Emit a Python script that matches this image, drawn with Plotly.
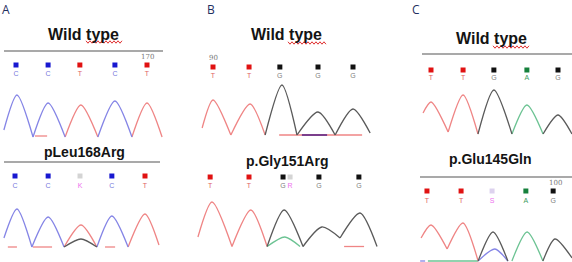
import plotly.graph_objects as go

W, H = 572, 262
K = 0.5  # px per intensity unit

# ------------------------------------------------------------------ data
# base calls (position in base units, call letter)
a_wt_calls = ["C", "C", "T", "C", "T"]
a_wt_pos = [0, 0.98, 1.95, 3.02, 4.0]
a_mut_calls = ["C", "C", "K", "C", "T"]
a_mut_pos = [0, 1.02, 2.0, 2.98, 4.0]
b_wt_calls = ["T", "T", "G", "G", "G"]
b_wt_pos = [0, 1.03, 1.91, 3.0, 4.0]
b_mut_calls = ["T", "T", "G", "R", "G", "G"]
b_mut_pos = [-0.05, 1.0, 1.92, 2.11, 2.89, 3.97]
c_wt_calls = ["T", "T", "G", "A", "G"]
c_wt_pos = [0, 1.01, 1.98, 3.02, 4.0]
c_mut_calls = ["T", "T", "S", "A", "G"]
c_mut_pos = [-0.13, 0.97, 1.97, 3.06, 3.94]

# chromatogram traces (position in base units, signal intensity)
a_wt_blue_x = [-0.37, 0.03, 0.52, 0.98, 1.5, None, 2.5, 3.02, 3.54]
a_wt_blue_y = [14, 84, 0, 68, 0, None, 0, 72, 0]
a_wt_red_x = [0.58, 0.95, None, 1.5, 1.98, 2.5, None, 3.54, 4.0, 4.46]
a_wt_red_y = [2, 2, None, 0, 64, 0, None, 0, 68, 0]

a_mut_blue_x = [-0.34, 0.06, 0.52, 1.02, 1.51, None, 2.52, 2.98, 3.48]
a_mut_blue_y = [18, 76, 0, 60, 0, None, 0, 62, 0]
a_mut_red_x = [-0.22, 0.06, None, 0.55, 1.14, None, 1.51, 2.03, 2.52, None,
               2.77, 3.08, None, 3.48, 4.0, 4.43]
a_mut_red_y = [0, 0, None, 0, 0, None, 0, 44, 0, None, 0, 0, None, 0, 66, 4]
a_mut_black_x = [1.51, 2.03, 2.52]
a_mut_black_y = [0, 16, 0]

b_wt_red_x = [-0.31, 0, 0.51, 1.06, 1.49, None, 1.89, 4.26]
b_wt_red_y = [14, 70, 0, 62, 0, None, 0, 0]
b_wt_purple_x = [2.54, 3.26]
b_wt_purple_y = [0, 0]
b_wt_black_x = [1.49, 1.97, 2.4, 3.0, 3.49, 4.0, 4.49]
b_wt_black_y = [0, 100, 0, 46, 0, 52, 4]

b_mut_red_x = [-0.38, 0, 0.54, 1.05, 1.49, None, 3.57, 4.11]
b_mut_red_y = [19, 89, 0, 73, 0, None, 0, 0]
b_mut_black_x = [1.49, 1.95, 2.46, 2.97, 3.46, 4.0, 4.46]
b_mut_black_y = [0, 73, 0, 39, 17, 67, 0]
b_mut_green_x = [1.49, 1.97, 2.38]
b_mut_green_y = [0, 19, 0]

c_wt_red_x = [-0.25, 0, 0.54, 1.01, 1.48]
c_wt_red_y = [42, 64, 4, 78, 0]
c_wt_black_x = [1.48, 1.98, 2.55, None, 3.53, 4.0, 4.44]
c_wt_black_y = [0, 88, 0, None, 0, 38, 0]
c_wt_green_x = [2.55, 3.02, 3.53]
c_wt_green_y = [0, 58, 0]

c_mut_red_x = [-0.32, 0, 0.52, 1.03, 1.52]
c_mut_red_y = [46, 72, 24, 76, 0]
c_mut_black_x = [1.52, 2.0, 2.48, None, 3.61, 4.0, 4.55]
c_mut_black_y = [0, 58, 0, None, 0, 44, 6]
c_mut_blue_x = [-0.35, -0.19, None, 1.52, 2.06, 2.48]
c_mut_blue_y = [0, 0, None, 0, 24, 0]
c_mut_green_x = [-0.1, 1.52, None, 2.61, 3.1, 3.61]
c_mut_green_y = [0, 0, None, 0, 58, 0]

titles = ["Wild type", "pLeu168Arg", "Wild type", "p.Gly151Arg", "Wild type", "p.Glu145Gln"]
panel_letters = ["A", "B", "C"]
pos_numbers = ["170", "90", "100"]

# ------------------------------------------------------------------ styling
LINE = {"blue": "#8585e6", "red": "#ef8585", "black": "#5a5a5a",
        "green": "#6cc393", "purple": "#7b3f8c"}
SQ = {"C": "#1818d0", "T": "#e01212", "G": "#111111", "A": "#16803c"}
LET = {"C": "#7878dc", "T": "#e06464", "G": "#808080", "A": "#3c9c5c"}
AMB_SQ = "#d4d4d4"
AMB_LET = "#ee70ee"

PANELS = [
    dict(x0=16, dx=32.75, base=137, box=(0, 190, 0, 140), sq=65, let=74,
         calls=a_wt_calls, pos=a_wt_pos, amb_sq=AMB_SQ,
         traces=[(a_wt_red_x, a_wt_red_y, "red"), (a_wt_blue_x, a_wt_blue_y, "blue")]),
    dict(x0=15, dx=32.5, base=247, box=(0, 190, 140, 262), sq=176, let=186,
         calls=a_mut_calls, pos=a_mut_pos, amb_sq=AMB_SQ,
         traces=[(a_mut_red_x, a_mut_red_y, "red"), (a_mut_blue_x, a_mut_blue_y, "blue"),
                 (a_mut_black_x, a_mut_black_y, "black")]),
    dict(x0=213, dx=35, base=135, box=(190, 390, 0, 140), sq=67, let=76,
         calls=b_wt_calls, pos=b_wt_pos, amb_sq=AMB_SQ,
         traces=[(b_wt_red_x, b_wt_red_y, "red"), (b_wt_purple_x, b_wt_purple_y, "purple"),
                 (b_wt_black_x, b_wt_black_y, "black")]),
    dict(x0=212, dx=37, base=246.5, box=(190, 390, 140, 262), sq=177, let=186,
         calls=b_mut_calls, pos=b_mut_pos, amb_sq=AMB_SQ,
         traces=[(b_mut_red_x, b_mut_red_y, "red"), (b_mut_green_x, b_mut_green_y, "green"),
                 (b_mut_black_x, b_mut_black_y, "black")]),
    dict(x0=431, dx=31.75, base=134, box=(390, 572, 0, 140), sq=70, let=78,
         calls=c_wt_calls, pos=c_wt_pos, amb_sq=AMB_SQ,
         traces=[(c_wt_red_x, c_wt_red_y, "red"), (c_wt_green_x, c_wt_green_y, "green"),
                 (c_wt_black_x, c_wt_black_y, "black")]),
    dict(x0=431, dx=31, base=261, box=(390, 572, 140, 262), sq=191, let=201,
         calls=c_mut_calls, pos=c_mut_pos, amb_sq="#ddd2ee",
         traces=[(c_mut_green_x, c_mut_green_y, "green"), (c_mut_red_x, c_mut_red_y, "red"),
                 (c_mut_blue_x, c_mut_blue_y, "blue"), (c_mut_black_x, c_mut_black_y, "black")]),
]


def arches(xs, ys):
    """Split a vertex list into separate valley-peak-valley arches."""
    segs, cur = [], []
    for x, y in zip(xs, ys):
        if x is None:
            if cur:
                segs.append(cur)
            cur = []
        else:
            cur.append((x, y))
    if cur:
        segs.append(cur)
    ox, oy = [], []
    for s in segs:
        peaks = [i for i in range(1, len(s) - 1) if s[i][1] > s[i - 1][1] and s[i][1] > s[i + 1][1]]
        if not peaks:
            ox += [p[0] for p in s] + [None]
            oy += [p[1] for p in s] + [None]
        for i in peaks:
            ox += [s[i - 1][0], s[i][0], s[i + 1][0], None]
            oy += [s[i - 1][1], s[i][1], s[i + 1][1], None]
    return ox, oy


def px(x):
    return x / W


def py(y):
    return 1 - y / H


fig = go.Figure()
layout = dict(width=W, height=H, margin=dict(l=0, r=0, t=0, b=0),
              paper_bgcolor="white", plot_bgcolor="rgba(0,0,0,0)", showlegend=False)

for i, p in enumerate(PANELS, start=1):
    L, R, T, B = p["box"]
    xr = [(L - p["x0"]) / p["dx"], (R - p["x0"]) / p["dx"]]
    yr = [(p["base"] - B) / K, (p["base"] - T) / K]
    sfx = "" if i == 1 else str(i)
    layout["xaxis" + sfx] = dict(domain=[px(L), px(R)], range=xr, visible=False,
                                 fixedrange=True, anchor="y" + sfx)
    layout["yaxis" + sfx] = dict(domain=[py(B), py(T)], range=yr, visible=False,
                                 fixedrange=True, anchor="x" + sfx)
    xa, ya = "x" + sfx, "y" + sfx
    for xs, ys, col in p["traces"]:
        if col == "purple" or all(v in (0, None) for v in ys if v is not None) and len(xs) == 2:
            ax_, ay_ = xs, ys
            shape = "linear"
        else:
            ax_, ay_ = arches(xs, ys)
            shape = "spline"
        fig.add_trace(go.Scatter(x=ax_, y=ay_, xaxis=xa, yaxis=ya, mode="lines",
                                 line=dict(color=LINE[col], width=2 if col == "purple" else 1.3,
                                           shape=shape, smoothing=0.75),
                                 hoverinfo="skip", cliponaxis=False))
    sq_y = (p["base"] - p["sq"]) / K
    let_y = (p["base"] - p["let"]) / K
    sq_cols = [SQ.get(c, p["amb_sq"]) for c in p["calls"]]
    let_cols = [LET.get(c, AMB_LET) for c in p["calls"]]
    fig.add_trace(go.Scatter(x=p["pos"], y=[sq_y] * len(p["pos"]), xaxis=xa, yaxis=ya,
                             mode="markers", marker=dict(symbol="square", size=5, color=sq_cols),
                             hoverinfo="skip", cliponaxis=False))
    fig.add_trace(go.Scatter(x=p["pos"], y=[let_y] * len(p["pos"]), xaxis=xa, yaxis=ya,
                             mode="text", text=p["calls"],
                             textfont=dict(size=7, color=let_cols, family="Liberation Sans"),
                             hoverinfo="skip", cliponaxis=False))

fig.update_layout(**layout)

ann = []
# titles
title_xy = [(83, 34), (84, 152), (286, 34), (287, 161), (491, 38), (490, 159)]
for t, (x, y) in zip(titles, title_xy):
    ann.append(dict(x=px(x), y=py(y), xref="paper", yref="paper", text="<b>%s</b>" % t,
                    showarrow=False, xanchor="center", yanchor="middle",
                    font=dict(family="Liberation Sans", size=16 if t == "Wild type" else 14,
                              color="#141414")))
# panel letters
for t, (x, y) in zip(panel_letters, [(6, 9), (211, 9), (416, 9)]):
    ann.append(dict(x=px(x), y=py(y), xref="paper", yref="paper", text=t, showarrow=False,
                    xanchor="center", yanchor="middle",
                    font=dict(family="Open Sans", size=12, color="#1f2f5f")))
# position numbers
for t, (x, y) in zip(pos_numbers, [(147, 57), (213, 58), (555, 183)]):
    ann.append(dict(x=px(x), y=py(y), xref="paper", yref="paper", text=t, showarrow=False,
                    xanchor="center", yanchor="middle",
                    font=dict(family="DejaVu Serif", size=7, color="#777777")))

shapes = []
for x1, x2, y in [(4, 163, 51), (4, 160, 162), (422, 572, 54), (420, 572, 177)]:
    shapes.append(dict(type="line", xref="paper", yref="paper", x0=px(x1), x1=px(x2),
                       y0=py(y), y1=py(y), line=dict(color="#8c8c8c", width=1.5)))
# spell-check squiggles under "type"
for x1, x2, y in [(86, 123, 42), (288, 327, 43), (493, 530, 47)]:
    pts, x, up = [], x1, True
    while x <= x2:
        pts.append("%s %.4f,%.4f" % ("M" if not pts else "L", px(x), py(y - 1.2 if up else y + 1.2)))
        x += 2
        up = not up
    shapes.append(dict(type="path", xref="paper", yref="paper", path=" ".join(pts),
                       line=dict(color="#e03030", width=1)))

fig.update_layout(annotations=ann, shapes=shapes)
fig.write_html("out.html")
